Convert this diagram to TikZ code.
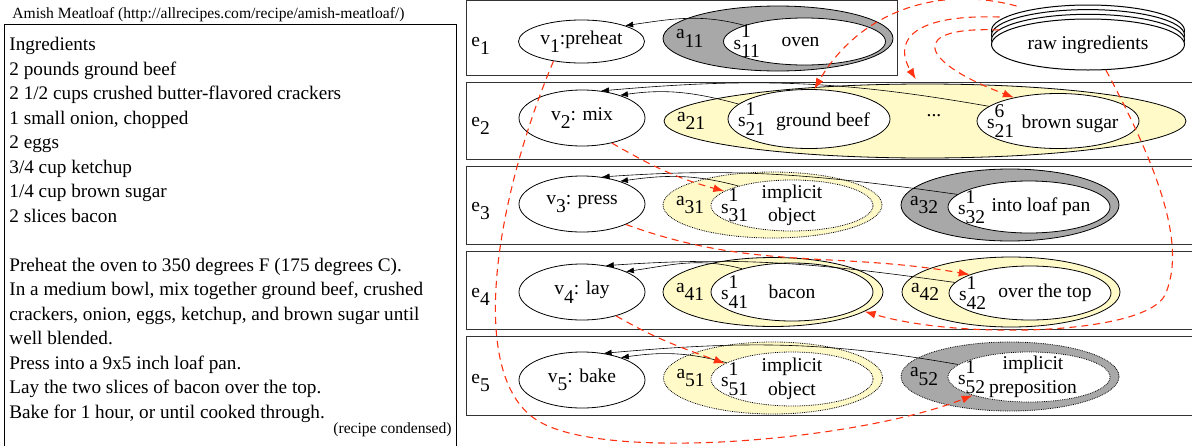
\documentclass[tikz,border=0pt]{standalone}
\usepackage{fontspec}
\setmainfont{Liberation Serif}
\usetikzlibrary{calc}
\usetikzlibrary{positioning}
\usetikzlibrary{shapes.geometric}
\usetikzlibrary{shadows}
\usetikzlibrary{arrows.meta}
\definecolor{agray}{RGB}{168,168,168}
\definecolor{ayellow}{RGB}{255,250,200}
\definecolor{flowred}{RGB}{255,51,17}
\newcommand{\lo}[2]{#1\raisebox{-8.5pt}{#2}}
\newcommand{\ix}[3]{#1\raisebox{11.5pt}{\makebox[0pt][l]{#2}}\raisebox{-8.5pt}{#3}}

\begin{document}
\begin{tikzpicture}[x=1pt,y=1pt,line width=0.8pt,font=\fontsize{19.5}{23.5}\selectfont]
  \tikzstyle{box}=[draw=black!80,line width=1pt]
  \tikzstyle{vnode}=[ellipse,draw,minimum width=126pt,minimum height=56pt,inner sep=0pt]
  \tikzstyle{anode}=[ellipse,draw,inner sep=0pt]
  \tikzstyle{snode}=[ellipse,draw,fill=white,minimum width=162pt,minimum height=54pt,inner sep=0pt]
  \tikzstyle{aidx}=[anchor=west,inner sep=0pt,xshift=13pt]
  \tikzstyle{sidx}=[anchor=west,inner sep=0pt,xshift=10pt]
  \tikzstyle{word}=[align=center,inner sep=0pt]
  \tikzstyle{link}=[-{Latex[length=8pt,width=6pt]},line width=0.6pt]
  \tikzstyle{flow}=[-{Latex[length=11pt,width=8pt]},draw=flowred,line width=1.1pt,dash pattern=on 7pt off 5pt]
  \useasboundingbox (0,0) rectangle (1192,-445);

  \node[anchor=base west,inner sep=0pt,font=\fontsize{15.6}{18}\selectfont] (title) at (12,-18) {Amish Meatloaf (http://allrecipes.com/recipe/amish-meatloaf/)};
  \node[draw,anchor=north west,minimum width=452pt,minimum height=422pt] (recipe) at (4,-24) {};
  \node[anchor=north west,align=left,inner sep=0pt,font=\fontsize{19.2}{24.5}\selectfont] (steps) at (9,-37) {Ingredients\\2 pounds ground beef\\2 1/2 cups crushed butter-flavored crackers\\1 small onion, chopped\\2 eggs\\3/4 cup ketchup\\1/4 cup brown sugar\\2 slices bacon\\[24.5pt]Preheat the oven to 350 degrees F (175 degrees C).\\In a medium bowl, mix together ground beef, crushed\\crackers, onion, eggs, ketchup, and brown sugar until\\well blended.\\Press into a 9x5 inch loaf pan.\\Lay the two slices of bacon over the top.\\Bake for 1 hour, or until cooked through.};
  \node[anchor=base east,inner sep=0pt,font=\fontsize{15.6}{18}\selectfont] (note) at (452,-433) {(recipe condensed)};

  \foreach \i/\ya/\yb/\xr in {1/0.5/75.5/897,2/82/159/1200,3/166/244.5/1200,4/251/329.5/1200,5/336.5/415.5/1200}
    \draw[box] (466,-\ya) rectangle (\xr,-\yb);
  \foreach \i/\y in {1/46,2/126,3/211,4/297,5/383}
    \node[anchor=west,inner sep=0pt] (e\i) at (471,-\y) {\lo{e}{\i}};

  \node[vnode,minimum height=43pt] (v1) at (581.5,-41.5) {\lo{v}{1}:preheat};
  \foreach \i/\y/\act in {2/118/mix,3/204/press,4/292/lay,5/380/bake}
    \node[vnode] (v\i) at (582,-\y) {\lo{v}{\i}: \act};

  \node[anode,fill=agray,minimum width=230pt,minimum height=65pt,label={[aidx]west:\lo{a}{11}}] (a11) at (778,-38.5) {};
  \node[snode,minimum height=47pt,label={[sidx]west:\ix{s}{1}{11}},label={[word,xshift=-4pt]center:oven}] (s11) at (804.5,-41.5) {};

  \node[anode,fill=ayellow,minimum width=522pt,minimum height=74pt,label={[aidx]west:\lo{a}{21}}] (a21) at (925,-121) {};
  \node[snode,minimum height=59pt,label={[sidx]west:\ix{s}{1}{21}},label={[word,xshift=14pt,yshift=-3pt]center:ground beef}] (s21) at (809,-119) {};
  \node[snode,minimum height=55pt,label={[sidx]west:\ix{s}{6}{21}},label={[word,xshift=12pt,yshift=-3pt]center:brown sugar}] (s21b) at (1058,-121) {};
  \node[inner sep=0pt] (dots) at (934,-116) {...};

  \node[anode,densely dotted,fill=ayellow,minimum width=219pt,minimum height=66pt,label={[aidx]west:\lo{a}{31}}] (a31) at (772.5,-205) {};
  \node[snode,densely dotted,minimum height=51pt,label={[sidx]west:\ix{s}{1}{31}},label={[word]center:implicit\\object}] (s31) at (792,-205.5) {};
  \node[anode,fill=agray,minimum width=218pt,minimum height=72pt,label={[aidx,xshift=-4pt]west:\lo{a}{32}}] (a32) at (1010,-205) {};
  \node[snode,minimum height=52pt,label={[sidx]west:\ix{s}{1}{32}},label={[word,xshift=12pt]center:into loaf pan}] (s32) at (1029,-207) {};

  \node[anode,fill=ayellow,minimum width=220pt,minimum height=69pt,label={[aidx]west:\lo{a}{41}}] (a41) at (773,-292) {};
  \node[snode,minimum height=58pt,label={[sidx]west:\ix{s}{1}{41}},label={[word]center:bacon}] (s41) at (792,-292) {};
  \node[anode,fill=ayellow,minimum width=218pt,minimum height=70pt,label={[aidx,xshift=-4pt]west:\lo{a}{42}}] (a42) at (1011,-292) {};
  \node[snode,minimum height=54pt,label={[sidx]west:\ix{s}{1}{42}},label={[word,xshift=15pt]center:over the top}] (s42) at (1030,-293) {};

  \node[anode,densely dotted,fill=ayellow,minimum width=219pt,minimum height=72pt,label={[aidx]west:\lo{a}{51}}] (a51) at (773,-378) {};
  \node[snode,densely dotted,minimum height=54pt,label={[sidx]west:\ix{s}{1}{51}},label={[word]center:implicit\\object}] (s51) at (792,-379) {};
  \node[anode,densely dotted,fill=agray,minimum width=218pt,minimum height=69pt,label={[aidx,xshift=-4pt]west:\lo{a}{52}}] (a52) at (1010,-376.5) {};
  \node[snode,densely dotted,minimum height=50pt,label={[sidx]west:\ix{s}{1}{52}},label={[word,xshift=4pt]center:implicit\\preposition}] (s52) at (1029,-377) {};

  \node[ellipse,draw,fill=white,line width=1pt,minimum width=193pt,minimum height=51pt,
    copy shadow={shadow xshift=0pt,shadow yshift=14pt,draw=black,fill=white},
    copy shadow={shadow xshift=0pt,shadow yshift=9.4pt,draw=black,fill=white},
    copy shadow={shadow xshift=0pt,shadow yshift=4.7pt,draw=black,fill=white}] (raw) at (1088,-44.5) {raw ingredients};

  \foreach \src/\sang/\dst/\dang/\bo/\bi in {s11/165/v1/20/165/8,s21/168/v2/31/165/8,s21b/168/v2/55/170/5,s31/160/v3/31/165/8,s32/170/v3/54/172/4,s41/155/v4/25/165/8,s42/172/v4/48/172/4,s51/166/v5/30/165/8,s52/170/v5/51/170/5}
    \draw[link] (\src.\sang) to[out=\bo,in=\bi] (\dst.\dang);

  \draw[flow] (v1.-145) .. controls (495,-200) and (465,-380) .. (540,-422) .. controls (610,-462) and (860,-440) .. (s52.-162);
  \draw[flow] (v2.-40) to[out=-30,in=165] (s31.168);
  \draw[flow] (v3.-25) to[out=-20,in=170] (s42.163);
  \draw[flow] (v4.-35) to[out=-30,in=160] (s51.167);
  \draw[flow] ($(raw.west)+(25.5,38.5)$) to[out=165,in=60] (s21.80);
  \draw[flow,shorten >=5pt] ($(raw.west)+(8.5,27.5)$) .. controls (905,-14) and (895,-45) .. (a21.100);
  \draw[flow] ($(raw.west)+(8.5,14.5)$) .. controls (910,-26) and (915,-60) .. (s21b.152);
  \draw[flow] (raw.-55) .. controls (1165,-180) and (1185,-250) .. (1165,-295) .. controls (1145,-335) and (960,-340) .. (a41.-12);
\end{tikzpicture}
\end{document}
